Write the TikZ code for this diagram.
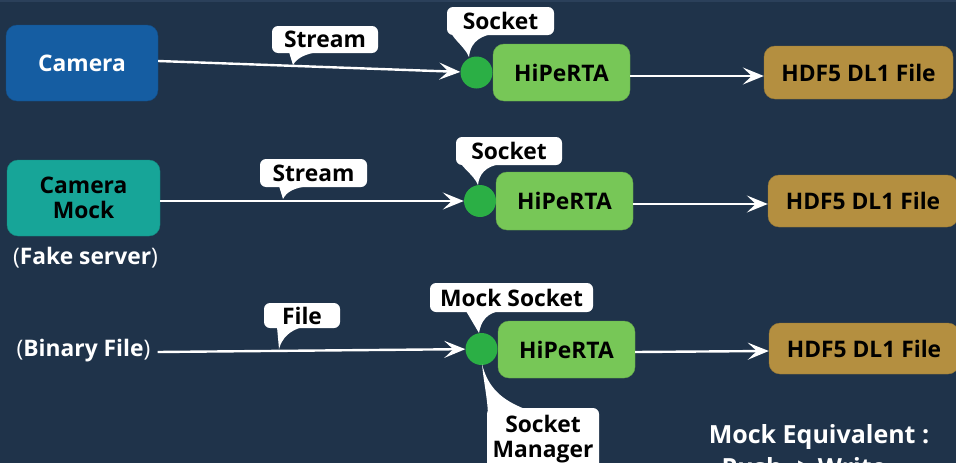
\documentclass[tikz,border=0pt]{standalone}
\usepackage{fontspec}
\setmainfont{Open Sans}
\usetikzlibrary{arrows.meta}
\definecolor{bg}{HTML}{1F334A}
\definecolor{topstrip}{HTML}{2B405A}
\definecolor{camblue}{HTML}{155DA2}
\definecolor{camteal}{HTML}{17A598}
\definecolor{hgreen}{HTML}{77C757}
\definecolor{sgreen}{HTML}{2BAF45}
\definecolor{gold}{HTML}{B48F40}
\tikzset{
  every node/.style={font=\fontsize{22.8}{25}\selectfont\bfseries},
  box/.style={rectangle, rounded corners=11pt, inner sep=0pt, align=center},
  bubble/.style={rectangle, rounded corners=6pt, fill=white, text=black, inner sep=0pt, align=center},
  tail/.style={fill=white},
  sock/.style={circle, fill=sgreen, inner sep=0pt, minimum size=32pt},
  conn/.style={draw=white, line width=2.4pt, -{Stealth[length=21pt,width=17pt,inset=9pt]}},
  plain/.style={text=white, inner sep=0pt, align=center},
  big/.style={font=\fontsize{25}{27}\selectfont\bfseries}
}
\begin{document}
\begin{tikzpicture}[x=1pt,y=-1pt]
\useasboundingbox (0,0) rectangle (956,463);
\clip (0,0) rectangle (956,463);
\fill[bg] (0,0) rectangle (956,463);
\fill[topstrip] (0,0) rectangle (956,2);

% ---------- Row 1 ----------
\node[box, fill=camblue, draw=camblue!85!black, text=white, minimum width=152, minimum height=76] (cam) at (82,63) {Camera};
\node[box, fill=hgreen, draw=hgreen!85!black, text=black, minimum width=137, minimum height=57] (h1) at (561.5,72.5) {HiPeRTA};
\node[box, fill=gold, draw=gold!85!black, text=black, minimum width=189, minimum height=53] (f1) at (858.5,72.5) {HDF5 DL1 File};
\node[sock] (s1) at (476.5,72.5) {};
\draw[conn] ([yshift=2]cam.east) -- (s1);
\draw[conn] ([yshift=-3.5]h1.east) -- ([yshift=-3.5]f1.west);
\node[bubble, minimum width=106, minimum height=27] (st1) at (325,39.5) {Stream};
\coordinate (t1) at (293,65);
\fill[tail] (289,52) -- (t1) .. controls (297,58) and (305,54) .. (318,52) -- cycle;
\node[bubble, minimum width=107, minimum height=28] (so1) at (500.5,21) {Socket};
\coordinate (u1) at (469,57);
\fill[tail] (448,25) .. controls (450,38) and (464,45) .. (u1) .. controls (470,46) and (476,37) .. (492,34) -- cycle;

% ---------- Row 2 ----------
\node[box, fill=camteal, draw=camteal!85!black, text=black, minimum width=153, minimum height=76] (cam2) at (83.5,198) {Camera\\Mock};
\node[plain] (fake) at (85.5,258) {\textmd{(}Fake server\textmd{)}};
\node[box, fill=hgreen, draw=hgreen!85!black, text=black, minimum width=137, minimum height=58] (h2) at (564.5,201) {HiPeRTA};
\node[box, fill=gold, draw=gold!85!black, text=black, minimum width=190, minimum height=52] (f2) at (863,201) {HDF5 DL1 File};
\node[sock] (s2) at (480,201) {};
\draw[conn] ([yshift=-3]cam2.east) -- (s2);
\draw[conn] ([yshift=-3]h2.east) -- ([yshift=-3]f2.west);
\node[bubble, minimum width=107, minimum height=28] (st2) at (313.5,173) {Stream};
\coordinate (t2) at (283,199);
\fill[tail] (279,186) -- (t2) .. controls (287,191) and (295,188) .. (308,186) -- cycle;
\node[bubble, minimum width=106, minimum height=28] (so2) at (509,151) {Socket};
\coordinate (u2) at (478,185);
\fill[tail] (457,155) .. controls (459,167) and (473,173) .. (u2) .. controls (479,175) and (485,166) .. (501,164) -- cycle;

% ---------- Row 3 ----------
\node[plain] (bin) at (83.5,351) {\textmd{(}Binary File\textmd{)}};
\node[box, fill=hgreen, draw=hgreen!85!black, text=black, minimum width=137, minimum height=57] (h3) at (566.5,349.5) {HiPeRTA};
\node[box, fill=gold, draw=gold!85!black, text=black, minimum width=190, minimum height=51] (f3) at (864,348.5) {HDF5 DL1 File};
\node[sock] (s3) at (481.5,349) {};
\draw[conn] ([xshift=7,yshift=-1]bin.east) -- (s3);
\draw[conn] ([yshift=-2.5]h3.east) -- ([yshift=-2.5]f3.west);
\node[bubble, minimum width=76, minimum height=25] (fl) at (302,315.5) {File};
\coordinate (t3) at (279,349);
\fill[tail] (277,327) -- (t3) .. controls (282,338) and (290,330) .. (303,327) -- cycle;
\node[bubble, minimum width=163, minimum height=29] (ms) at (511.5,297.5) {Mock Socket};
\coordinate (u3) at (479,333);
\fill[tail] (466,311) -- (u3) .. controls (481,321) and (487,313) .. (500,311) -- cycle;
\node[bubble, minimum width=112, minimum height=62] (sm) at (543,439) {Socket\\Manager};
\coordinate (u4) at (482,364);
\fill[tail] (u4) .. controls (484,385) and (488,400) .. (488,418) -- (525,409) .. controls (502,400) and (488,388) .. (u4) -- cycle;

\node[plain, big] (me) at (819,437) {Mock Equivalent :};
\node[plain, big] (pw) at (804,467) {Push -> Write};
\end{tikzpicture}
\end{document}
